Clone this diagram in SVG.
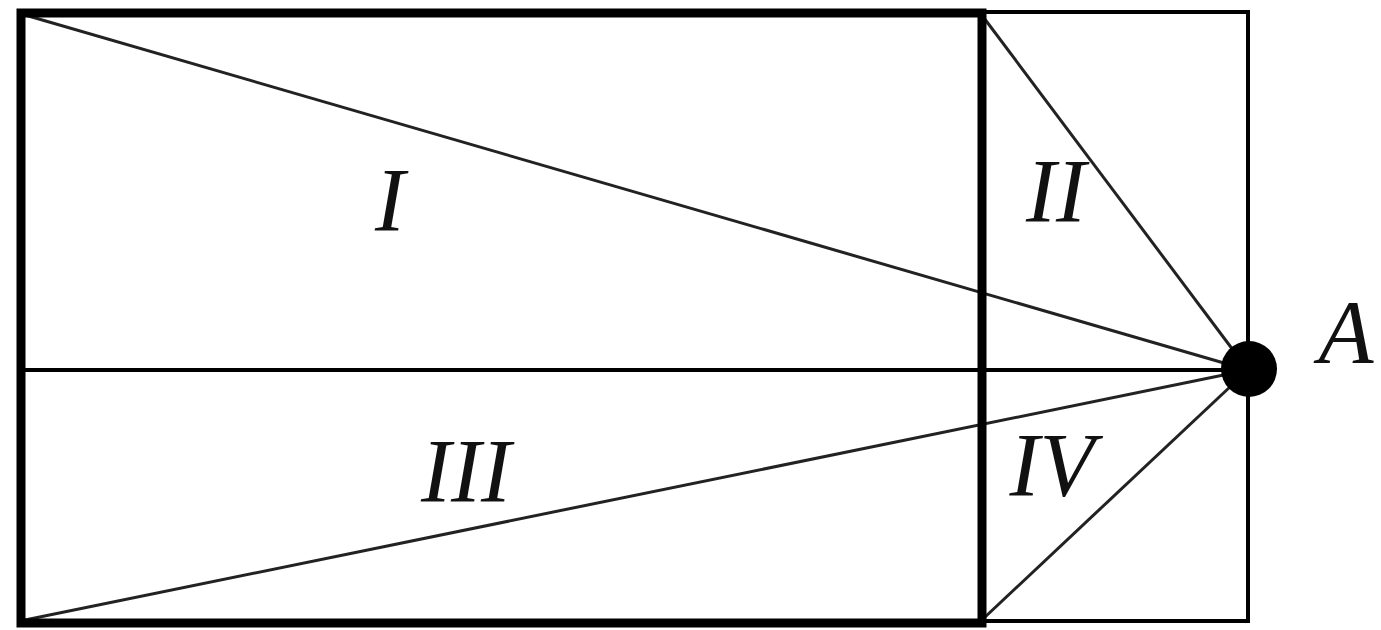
<svg xmlns="http://www.w3.org/2000/svg" width="1381" height="630" viewBox="0 0 1381 630">
<style>
.thin{fill:none;stroke:#000;stroke-width:4}
.ray{fill:none;stroke:#222;stroke-width:3}
.thick{fill:none;stroke:#000;stroke-width:9}
.lbl{font-family:"Liberation Serif","Times New Roman",serif;font-style:italic;font-size:90px;fill:#111;text-anchor:middle}
</style>
<rect width="1381" height="630" fill="#fff"/>
<g id="outer-rect"><rect class="thin" x="21" y="12" width="1227" height="609"/></g>
<g id="connectors">
<line class="thin" x1="21" y1="370" x2="1248" y2="370"/>
<line class="ray" x1="25" y1="15" x2="1248" y2="370"/>
<line class="ray" x1="25" y1="620" x2="1248" y2="370"/>
<line class="ray" x1="984" y1="18" x2="1248" y2="370"/>
<line class="ray" x1="984" y1="618" x2="1248" y2="370"/>
</g>
<g id="thick-rect"><rect class="thick" x="21" y="13" width="961" height="610"/></g>
<g id="point-A"><circle cx="1249" cy="369" r="28" fill="#000"/><text class="lbl" x="1346" y="363">A</text></g>
<g id="region-I"><text class="lbl" x="390" y="231">I</text></g>
<g id="region-II"><text class="lbl" x="1056" y="222">II</text></g>
<g id="region-III"><text class="lbl" x="466" y="502">III</text></g>
<g id="region-IV"><text class="lbl" x="1052" y="496">IV</text></g>
</svg>
